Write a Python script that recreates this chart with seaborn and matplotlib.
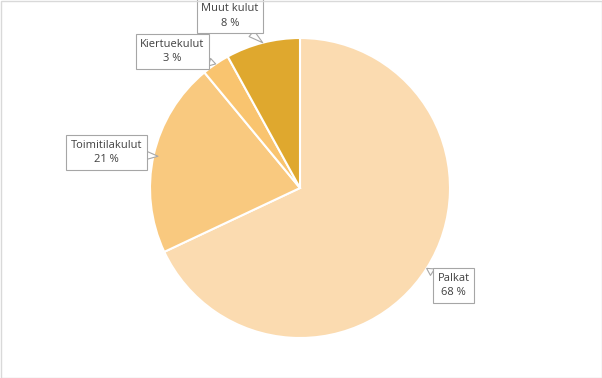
import matplotlib
matplotlib.use("Agg")
import matplotlib.pyplot as plt
import seaborn as sns
import numpy as np
from matplotlib.patches import Rectangle

categories = ["Palkat", "Toimitilakulut", "Kiertuekulut", "Muut kulut"]
values = [68, 21, 3, 8]
labels_pct = ["68 %", "21 %", "3 %", "8 %"]
colors = ["#FBDBB0", "#F9C97F", "#F9C46F", "#DFA82E"]

# label box centres (axes data units, pie radius = 1)
label_pos = [(1.023, -0.65), (-1.29, 0.237), (-0.85, 0.91), (-0.467, 1.147)]
# pointer tip (fraction of radius along wedge mid-angle)
tip_r = [1.0, 0.97, 1.0, 1.0]

sns.set_theme(style="white")
plt.rcParams['font.family'] = ['Open Sans', 'DejaVu Sans']

fig = plt.figure(figsize=(6.02, 3.78), dpi=100)
ax = fig.add_axes([150/602, 40/378, 300/602, 300/378])
wedges, _ = ax.pie(values, colors=colors, startangle=90, counterclock=False,
                   wedgeprops=dict(edgecolor="white", linewidth=1.5))
ax.set_xlim(-1, 1)
ax.set_ylim(-1, 1)
ax.set_aspect("equal")
ax.axis("off")

for w, cat, pct, pos, tr in zip(wedges, categories, labels_pct, label_pos, tip_r):
    ang = np.deg2rad((w.theta1 + w.theta2) / 2)
    tip = (tr * np.cos(ang), tr * np.sin(ang))
    ax.annotate(f"{cat}\n{pct}", xy=tip, xytext=pos, ha="center", va="center",
                fontsize=8, color="#404040", linespacing=1.45,
                bbox=dict(boxstyle="square,pad=0.4", fc="white", ec="#A6A6A6", lw=0.8),
                arrowprops=dict(arrowstyle="wedge,tail_width=0.7,shrink_factor=0.5",
                                fc="white", ec="#A6A6A6", lw=0.8,
                                shrinkA=0, shrinkB=0),
                annotation_clip=False)

fig.patches.append(Rectangle((0.5/602, 0.5/378), 1 - 1/602, 1 - 1/378,
                             transform=fig.transFigure, fill=False,
                             ec="#D9D9D9", lw=1))
fig.savefig("out.png", dpi=100)
